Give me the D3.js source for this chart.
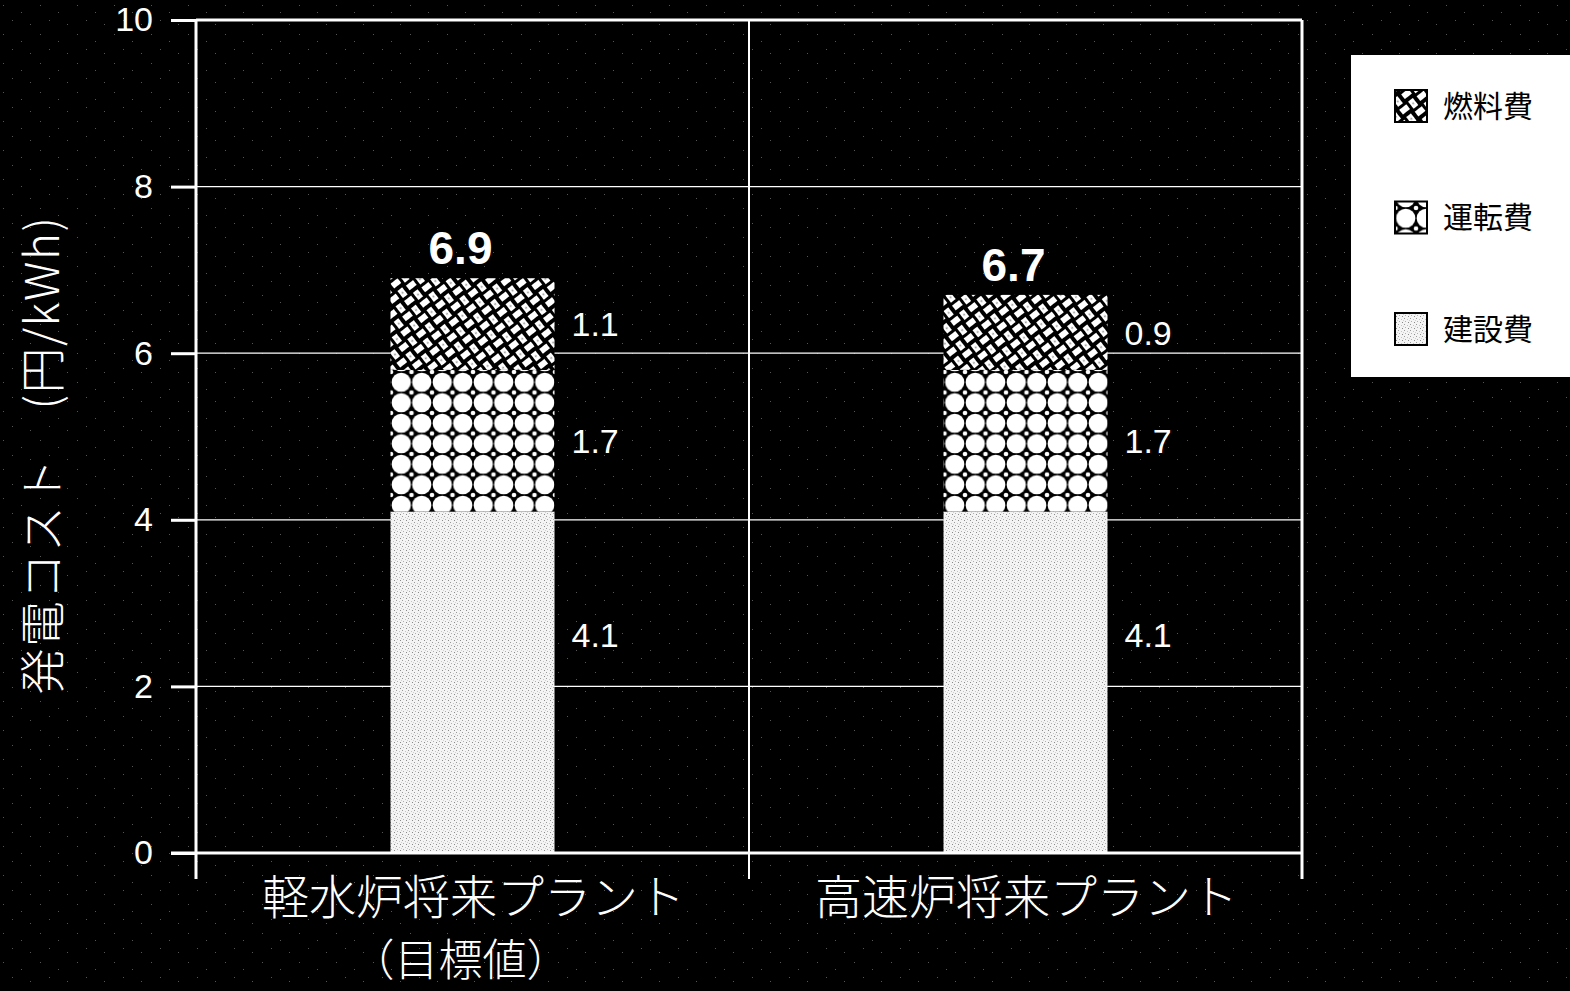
<!DOCTYPE html>
<html><head><meta charset="utf-8">
<script src="https://cdn.jsdelivr.net/npm/d3@7"></script>
<style>
html,body{margin:0;padding:0;background:#000;}
svg{display:block;}
</style></head>
<body>
<svg id="chart" width="1570" height="991"></svg>
<script>
const categories = ["軽水炉将来プラント", "高速炉将来プラント"];
const categorySubLabels = ["（目標値）", ""];
const seriesNames = ["建設費", "運転費", "燃料費"];
const construction = [4.1, 4.1];
const operation = [1.7, 1.7];
const fuel = [1.1, 0.9];
const totals = [6.9, 6.7];
const yTicks = [0, 2, 4, 6, 8, 10];
const legendOrder = ["燃料費", "運転費", "建設費"];

const svg = d3.select("#chart");
const W = 1570, H = 991;
const defs = svg.append("defs");

// background speckle
const pN = defs.append("pattern").attr("id", "pNoise").attr("patternUnits", "userSpaceOnUse").attr("width", 37).attr("height", 29);
pN.append("rect").attr("width", 37).attr("height", 29).attr("fill", "#000");
[[3,5],[21,12],[30,24],[12,20]].forEach(d => pN.append("rect").attr("x", d[0]).attr("y", d[1]).attr("width", 1).attr("height", 1).attr("fill", "#555"));
svg.append("rect").attr("width", W).attr("height", H).attr("fill", "url(#pNoise)");

const m = {left: 196, right: 1302, top: 20, bottom: 853};
const x = d3.scaleBand().domain(categories).range([m.left, m.right]).paddingInner(0).paddingOuter(0);
const y = d3.scaleLinear().domain([0, 10]).range([m.bottom, m.top]);
const barW = 164;

// construction stipple
const pS = defs.append("pattern").attr("id", "pStip").attr("patternUnits", "userSpaceOnUse").attr("width", 6).attr("height", 6);
pS.append("rect").attr("width", 6).attr("height", 6).attr("fill", "#f4f4f4");
[[0,0,"#9a9a9a"],[3,1,"#c4c4c4"],[1,3,"#b0b0b0"],[4,4,"#8a8a8a"],[5,2,"#d0d0d0"]].forEach(d=>{
  pS.append("rect").attr("x", d[0]).attr("y", d[1]).attr("width", 1).attr("height", 1).attr("fill", d[2]);
});
// operation circles
const cs = 20.5;
const pC = defs.append("pattern").attr("id", "pCirc").attr("patternUnits", "userSpaceOnUse").attr("width", cs).attr("height", cs).attr("x", 391).attr("y", 372);
pC.append("rect").attr("width", cs).attr("height", cs).attr("fill", "#000");
pC.append("circle").attr("cx", cs/2).attr("cy", cs/2).attr("r", 9.6).attr("fill", "#fff");
[[0,0],[cs,0],[0,cs],[cs,cs]].forEach(d=>{
  pC.append("circle").attr("cx", d[0]).attr("cy", d[1]).attr("r", 2.3).attr("fill", "#fff");
});
// fuel weave
const ws = 22;
const pW = defs.append("pattern").attr("id", "pWeave").attr("patternUnits", "userSpaceOnUse").attr("width", ws).attr("height", ws).attr("patternTransform", "rotate(-38)");
pW.append("rect").attr("width", ws).attr("height", ws).attr("fill", "#000");
pW.append("rect").attr("x", 1).attr("y", 2).attr("width", 9).attr("height", 6).attr("fill", "#fff");
pW.append("rect").attr("x", 12).attr("y", 13).attr("width", 9).attr("height", 6).attr("fill", "#fff");
pW.append("rect").attr("x", 13).attr("y", 1).attr("width", 6).attr("height", 9).attr("fill", "#fff");
pW.append("rect").attr("x", 2).attr("y", 12).attr("width", 6).attr("height", 9).attr("fill", "#fff");
pW.append("circle").attr("cx", 5).attr("cy", 16.5).attr("r", 1).attr("fill", "#999");
pW.append("circle").attr("cx", 16).attr("cy", 5.5).attr("r", 1).attr("fill", "#999");

const fills = {"建設費": "url(#pStip)", "運転費": "url(#pCirc)", "燃料費": "url(#pWeave)"};

// gridlines
svg.append("g").selectAll("line").data(yTicks.filter(t => t > 0)).join("line")
  .attr("x1", m.left).attr("x2", m.right).attr("y1", d => y(d)).attr("y2", d => y(d))
  .attr("stroke", "#fff").attr("stroke-width", d => d === 10 ? 3 : 1.2);

// stacked bars
const rows = categories.map((c, i) => ({cat: c, "建設費": construction[i], "運転費": operation[i], "燃料費": fuel[i]}));
const stack = d3.stack().keys(seriesNames)(rows);
const gBars = svg.append("g");
stack.forEach(layer => {
  gBars.selectAll(null).data(layer).join("rect")
    .attr("x", d => x(d.data.cat) + x.bandwidth() / 2 - barW / 2)
    .attr("width", barW)
    .attr("y", d => y(d[1]))
    .attr("height", d => y(d[0]) - y(d[1]))
    .attr("fill", fills[layer.key]);
});

// segment value labels
stack.forEach(layer => {
  svg.append("g").selectAll("text").data(layer).join("text")
    .attr("x", d => x(d.data.cat) + x.bandwidth() / 2 + barW / 2 + 17)
    .attr("y", d => layer.key === "建設費" ? y(d[0] + (d[1]-d[0]) * 0.64) : y((d[0] + d[1]) / 2))
    .attr("dy", "0.36em")
    .attr("fill", "#fff").attr("font-family", "Liberation Sans, Arial, sans-serif")
    .attr("font-size", 34)
    .text(d => d3.format(".1f")(d.data[layer.key]));
});

// totals
svg.append("g").selectAll("text").data(categories).join("text")
  .attr("x", (d, i) => x(d) + x.bandwidth() / 2 - 12)
  .attr("y", (d, i) => y(totals[i]) - 14)
  .attr("text-anchor", "middle")
  .attr("fill", "#fff").attr("font-family", "Liberation Sans, Arial, sans-serif")
  .attr("font-weight", "bold").attr("font-size", 46)
  .text((d, i) => d3.format(".1f")(totals[i]));

// y axis
const yAxis = d3.axisLeft(y).tickValues(yTicks).tickSize(25).tickSizeOuter(0).tickPadding(18).tickFormat(d3.format("d"));
const gy = svg.append("g").attr("transform", `translate(${m.left},0)`).call(yAxis);
gy.select(".domain").remove();
gy.selectAll(".tick line").attr("stroke", "#fff").attr("stroke-width", 3);
gy.selectAll(".tick text").attr("fill", "#fff").attr("font-size", 34).attr("font-family", "Liberation Sans, Arial, sans-serif");

// frame lines: baseline, band boundaries
svg.append("line").attr("x1", m.left - 25).attr("x2", m.right).attr("y1", y(0)).attr("y2", y(0)).attr("stroke", "#fff").attr("stroke-width", 3);
const bounds = [m.left, ...categories.map(c => x(c) + x.bandwidth())];
svg.append("g").selectAll("line").data(bounds).join("line")
  .attr("x1", d => d).attr("x2", d => d).attr("y1", m.top).attr("y2", y(0) + 26)
  .attr("stroke", "#fff").attr("stroke-width", (d, i) => i === 1 ? 2 : 3);

// category labels
svg.append("g").selectAll("text").data(categories).join("text")
  .attr("x", d => x(d) + x.bandwidth() / 2 + 1)
  .attr("y", 914)
  .attr("text-anchor", "middle")
  .attr("fill", "#fff").attr("font-family", "Noto Sans CJK JP").attr("font-weight", 300).attr("font-size", 47)
  .text(d => d);
svg.append("g").selectAll("text").data(categorySubLabels).join("text")
  .attr("x", (d, i) => x(categories[i]) + x.bandwidth() / 2 - 12)
  .attr("y", 976)
  .attr("text-anchor", "middle")
  .attr("fill", "#fff").attr("font-family", "Noto Sans CJK JP").attr("font-weight", 300).attr("font-size", 44)
  .text(d => d);

// y title
svg.append("text")
  .attr("transform", "translate(59,455) rotate(-90)")
  .attr("text-anchor", "middle")
  .attr("fill", "#fff").attr("font-family", "Noto Sans CJK JP").attr("font-weight", 300).attr("font-size", 46)
  .attr("letter-spacing", 1.5)
  .text("発電コスト　(円/kWh)");

// legend
const lg = svg.append("g");
lg.append("rect").attr("x", 1351).attr("y", 55).attr("width", 230).attr("height", 322).attr("fill", "#fff");
const ly = d3.scalePoint().domain(legendOrder).range([106, 329]);
legendOrder.forEach(k => {
  lg.append("rect").attr("x", 1395).attr("y", ly(k) - 16).attr("width", 32).attr("height", 32)
    .attr("fill", fills[k]).attr("stroke", "#000").attr("stroke-width", 2);
  lg.append("text").attr("x", 1443).attr("y", ly(k)).attr("dy", "0.36em")
    .attr("fill", "#000").attr("font-family", "Noto Sans CJK JP").attr("font-size", 30).text(k);
});
</script>
</body></html>
